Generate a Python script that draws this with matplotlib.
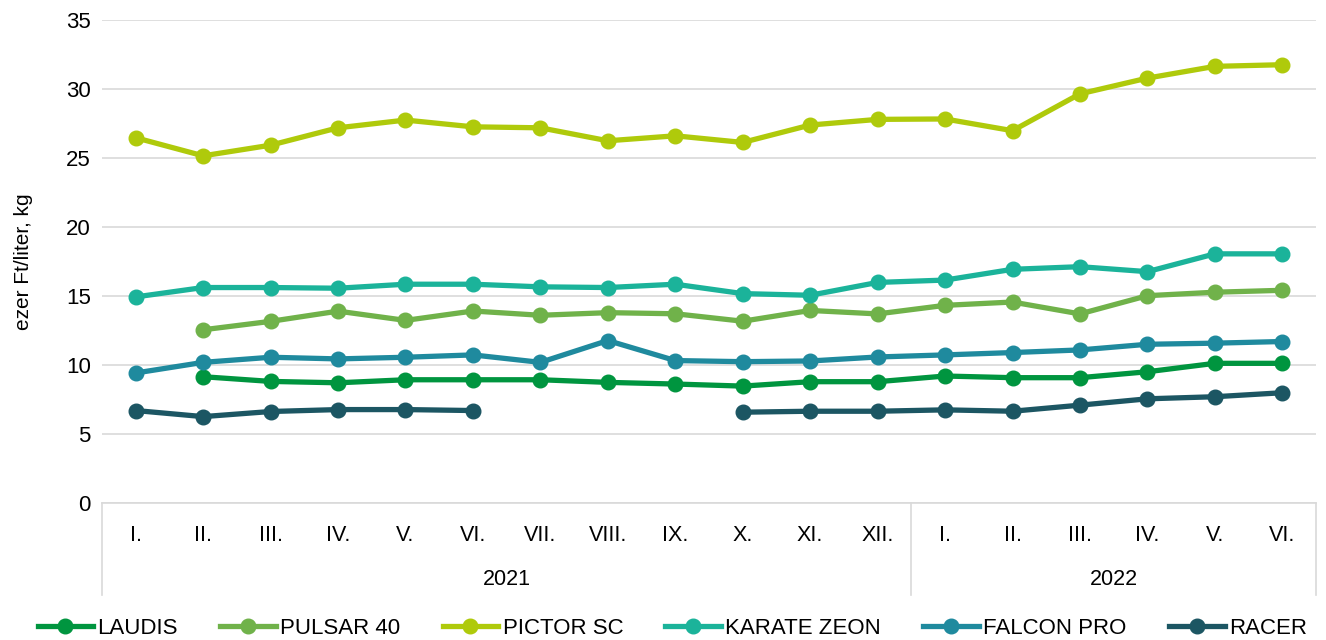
import matplotlib

matplotlib.use("Agg")
import matplotlib.pyplot as plt
import matplotlib.transforms as mtransforms
import numpy as np

plt.rcParams["font.family"] = ["Liberation Sans", "DejaVu Sans"]

months = ["I.", "II.", "III.", "IV.", "V.", "VI.", "VII.", "VIII.", "IX.", "X.", "XI.", "XII.",
          "I.", "II.", "III.", "IV.", "V.", "VI."]
years = ["2021", "2022"]
year_lengths = [12, 6]

nan = np.nan
laudis = [nan, 9.15, 8.81, 8.71, 8.93, 8.93, 8.93, 8.74, 8.62, 8.47, 8.79, 8.79,
          9.2, 9.08, 9.08, 9.51, 10.12, 10.12]
pulsar = [nan, 12.55, 13.16, 13.9, 13.23, 13.91, 13.6, 13.79, 13.71, 13.17, 13.95, 13.7,
          14.32, 14.56, 13.7, 15.02, 15.27, 15.41]
pictor = [26.46, 25.15, 25.92, 27.18, 27.74, 27.25, 27.18, 26.24, 26.6, 26.12, 27.38, 27.79,
          27.82, 26.97, 29.64, 30.78, 31.63, 31.75]
karate = [14.93, 15.61, 15.61, 15.56, 15.85, 15.85, 15.66, 15.61, 15.85, 15.17, 15.05, 15.98,
          16.15, 16.93, 17.12, 16.76, 18.05, 18.05]
falcon = [9.42, 10.19, 10.56, 10.44, 10.56, 10.73, 10.19, 11.77, 10.32, 10.24, 10.29, 10.58,
          10.73, 10.9, 11.09, 11.5, 11.58, 11.7]
racer = [6.70, 6.26, 6.63, 6.77, 6.77, 6.70, nan, nan, nan, 6.58, 6.65, 6.65,
         6.75, 6.65, 7.09, 7.55, 7.7, 7.99]

series_names = ["LAUDIS", "PULSAR 40", "PICTOR SC", "KARATE ZEON", "FALCON PRO", "RACER"]
series_values = [laudis, pulsar, pictor, karate, falcon, racer]
colors = ["#00953F", "#70B24A", "#AFCA0B", "#1BB39A", "#1F8A9E", "#1C5663"]

fig = plt.figure(figsize=(13.26, 6.4), dpi=100)
ax = fig.add_axes([0.0769, 0.214, 0.9156, 0.755])

x = np.arange(len(months))
handles = []
for name, values, color in zip(series_names, series_values, colors):
    (line,) = ax.plot(x, values, color=color, linewidth=3.8, marker="o", markersize=10.5,
                      label=name, solid_joinstyle="round", zorder=3)
    handles.append(line)

ax.set_xlim(-0.5, len(months) - 0.5)
ax.set_ylim(0, 35)
ax.set_yticks(np.arange(0, 36, 5))
ax.tick_params(axis="y", length=0, labelsize=16, pad=8, colors="#000000")
ax.tick_params(axis="x", length=0, labelsize=15.5, pad=16)
ax.set_xticks(x)
ax.set_xticklabels(months)
ax.grid(axis="y", color="#D9D9D9", linewidth=1.2, zorder=0)
for side in ("top", "right", "left"):
    ax.spines[side].set_visible(False)
ax.spines["bottom"].set_color("#D9D9D9")
ax.spines["bottom"].set_linewidth(1.2)
ax.set_ylabel("ezer Ft/liter, kg", fontsize=15, labelpad=24)

# year grouping below the month labels
trans = mtransforms.blended_transform_factory(ax.transData, ax.transAxes)
start = -0.5
bounds = [start]
for year, length in zip(years, year_lengths):
    ax.text(start + length / 2, -0.158, year, transform=trans, ha="center", va="center", fontsize=15.5)
    start += length
    bounds.append(start)
for b in bounds:
    ax.plot([b, b], [0, -0.19], transform=trans, color="#D9D9D9", linewidth=1.2, clip_on=False)

fig.legend(handles=handles, loc="lower center", bbox_to_anchor=(0.507, -0.03), ncol=6,
           frameon=False, fontsize=16, handlelength=2.5, handletextpad=0.2, columnspacing=1.9)

fig.savefig("out.png", dpi=100)
